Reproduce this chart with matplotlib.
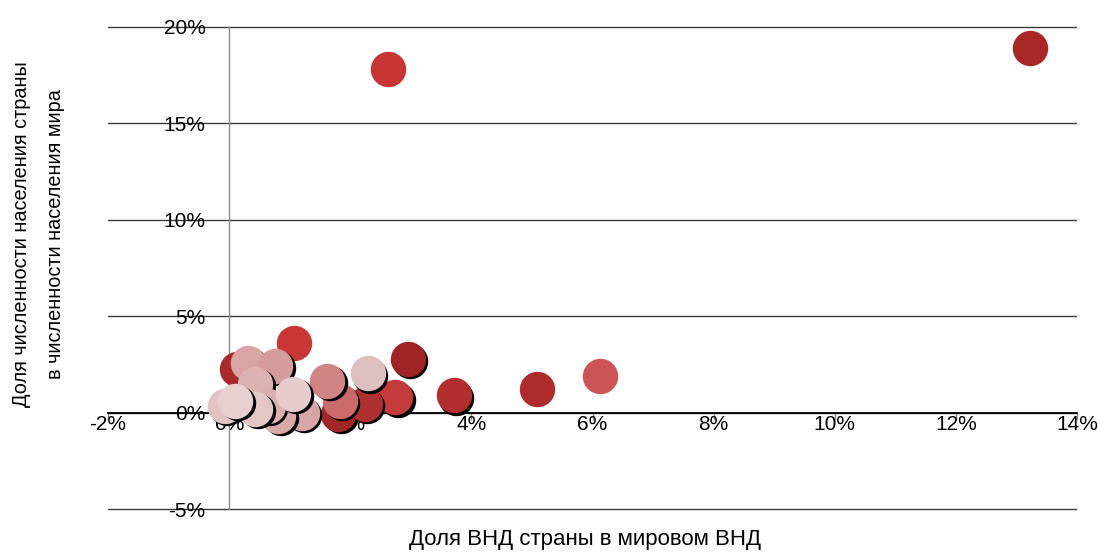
import numpy as np
import matplotlib
matplotlib.use("Agg")
from matplotlib import pyplot as plt
from matplotlib import transforms
from matplotlib.ticker import PercentFormatter

plt.rcParams['font.family'] = ['Liberation Sans', 'DejaVu Sans']
plt.rcParams['axes.unicode_minus'] = False

# доля ВНД страны в мировом ВНД (%)
gni_share = [13.22, 2.62, 6.12, 5.08, 3.71, 2.95, 2.74, 1.07,
             0.13, 1.80, 2.24, 1.83, 1.62, 2.29,
             0.31, 0.76, 0.43, 1.20, 0.81, 0.64, 0.43, -0.07, 0.10, 1.06]
# доля численности населения страны в населении мира (%)
pop_share = [18.9, 17.8, 1.9, 1.25, 0.9, 2.80, 0.8, 3.6,
             2.28, -0.05, 0.47, 0.62, 1.66, 2.03,
             2.59, 2.44, 1.5, 0.0, -0.16, 0.36, 0.21, 0.36, 0.62, 0.99]

colors = ['#A82828', '#C63434', '#CC5454', '#AE2C2C', '#B22E2E', '#9E2424', '#C23C3C', '#C83636',
          '#AA2A2A', '#A02626', '#AE3030', '#CC6A6A', '#D08484', '#DEC0C0',
          '#D8A4A4', '#D49C9C', '#DDB2B2', '#D6A6A6', '#D8AAAA', '#DBB0B0', '#E3C6C6', '#E2C4C4', '#E8D0D0', '#E6CCCC']
shadow = [False, False, False, False, True, True, True, False,
          False, True, True, True, True, True,
          True, True, True, True, True, True, True, True, True, True]

fig = plt.figure(figsize=(10.98, 5.54), dpi=100)
# оси чуть шире диапазона -5..20, чтобы крайние линии сетки не обрезались
ax = fig.add_axes([108 / 1098, 43 / 554, 969 / 1098, 486 / 554])

ax.set_xlim(-2, 14)
ax.set_ylim(-5.1, 20.1)
ax.set_xticks(np.arange(-2, 15, 2))
ax.set_yticks(np.arange(-5, 21, 5))
ax.xaxis.set_major_formatter(PercentFormatter(decimals=0))
ax.yaxis.set_major_formatter(PercentFormatter(decimals=0))

ax.grid(axis='y', color='#3a3a3a', linewidth=1.0)
ax.set_axisbelow(True)

for s in ['top', 'right']:
    ax.spines[s].set_visible(False)
ax.spines['bottom'].set_position(('data', 0))
ax.spines['bottom'].set_color('black')
ax.spines['bottom'].set_linewidth(1.3)
ax.spines['left'].set_position(('data', 0))
ax.spines['left'].set_bounds(-5, 20)
ax.spines['left'].set_color('#8c8c8c')
ax.spines['left'].set_linewidth(1.0)

ax.tick_params(axis='x', direction='out', length=5, width=1, color='#8c8c8c',
               pad=-3, labelsize=15)
ax.tick_params(axis='y', length=0, pad=17, labelsize=15)

sh = transforms.offset_copy(ax.transData, fig=fig, x=2.5, y=-2.5, units='dots')
z = 3
for x, y, c, s in zip(gni_share, pop_share, colors, shadow):
    if s:
        ax.scatter(x, y, s=650, color='black', transform=sh, zorder=z, linewidths=0)
    ax.scatter(x, y, s=650, color=c, zorder=z + 1, linewidths=0)
    z += 2

fig.text(585 / 1098, 1 - 540 / 554, 'Доля ВНД страны в мировом ВНД',
         ha='center', va='center', fontsize=16)
fig.text(39 / 1098, 1 - 234 / 554,
         'Доля численности населения страны\nв численности населения мира',
         ha='center', va='center', rotation=90, fontsize=14.3, linespacing=2.0)

fig.savefig('out.png', dpi=100)
